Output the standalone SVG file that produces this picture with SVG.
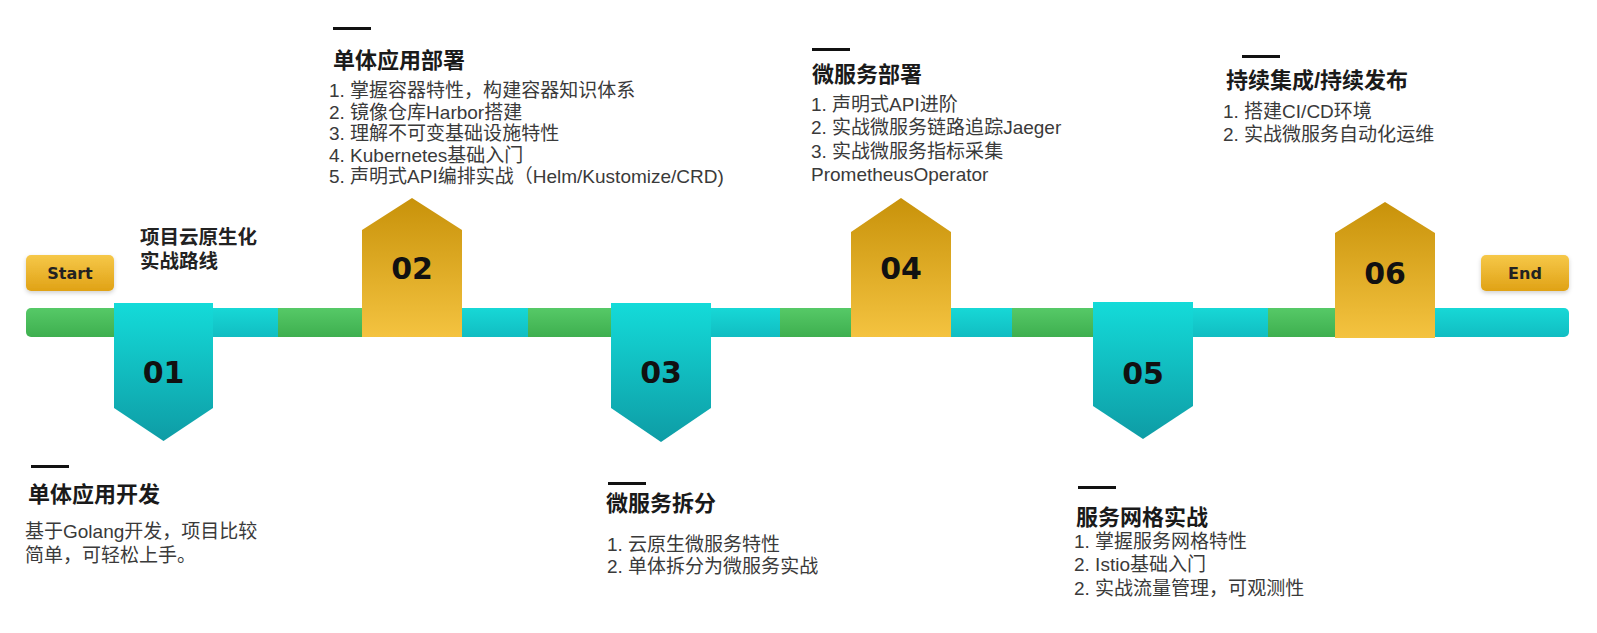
<svg xmlns="http://www.w3.org/2000/svg" width="1597" height="633" viewBox="0 0 1597 633">
<defs>
<linearGradient id="gGold" x1="0" y1="0" x2="0" y2="1"><stop offset="0" stop-color="#C8920A"/><stop offset="1" stop-color="#F4C340"/></linearGradient>
<linearGradient id="gCyan" x1="0" y1="0" x2="0" y2="1"><stop offset="0" stop-color="#14DBD9"/><stop offset="1" stop-color="#0E9CA5"/></linearGradient>
<linearGradient id="gBox" x1="0" y1="0" x2="0" y2="1"><stop offset="0" stop-color="#F6C849"/><stop offset="1" stop-color="#E0A215"/></linearGradient>
<linearGradient id="gGreen" x1="0" y1="0" x2="0" y2="1"><stop offset="0" stop-color="#56C967"/><stop offset="1" stop-color="#3EAF4F"/></linearGradient>
<linearGradient id="gBar" x1="0" y1="0" x2="0" y2="1"><stop offset="0" stop-color="#17D8D6"/><stop offset="1" stop-color="#11BDC2"/></linearGradient>
<filter id="sh" x="-20%" y="-20%" width="140%" height="150%"><feDropShadow dx="0" dy="2" stdDeviation="2" flood-color="#000" flood-opacity="0.18"/></filter>
</defs>
<style>
.num{font-family:"DejaVu Sans",sans-serif;font-weight:bold;font-size:30px;fill:#111;text-anchor:middle}
.lbl{font-family:"DejaVu Sans",sans-serif;font-weight:bold;font-size:16px;fill:#222;text-anchor:middle}
.ttl{font-family:"Liberation Sans","Noto Sans CJK SC",sans-serif;font-weight:bold;font-size:22px;fill:#1a1a1a}
.txt{font-family:"Liberation Sans","Noto Sans CJK SC",sans-serif;font-size:19px;fill:#3a3a3a}
.hd{font-family:"Liberation Sans","Noto Sans CJK SC",sans-serif;font-weight:bold;font-size:19.5px;fill:#222}
.dash{fill:#111}
.gold{fill:url(#gGold)}
.cyan{fill:url(#gCyan)}
.green{fill:url(#gGreen)}
.bar{fill:url(#gBar)}
</style>
<rect width="1597" height="633" fill="#ffffff"/>

<g id="connectors">
<rect class="green" x="26" y="308" width="100" height="29" rx="5"/>
<rect class="bar" x="200" y="308" width="90" height="29"/>
<rect class="green" x="278" y="308" width="90" height="29"/>
<rect class="bar" x="455" y="308" width="73" height="29"/>
<rect class="green" x="528" y="308" width="90" height="29"/>
<rect class="bar" x="705" y="308" width="75" height="29"/>
<rect class="green" x="780" y="308" width="78" height="29"/>
<rect class="bar" x="945" y="308" width="67" height="29"/>
<rect class="green" x="1012" y="308" width="88" height="29"/>
<rect class="bar" x="1185" y="308" width="83" height="29"/>
<rect class="green" x="1268" y="308" width="75" height="29"/>
<rect class="bar" x="1425" y="308" width="144" height="29" rx="5"/>
</g>

<g id="heading">
<text class="hd" x="140" y="244">项目云原生化</text>
<text class="hd" x="140" y="268">实战路线</text>
</g>

<g id="start">
<rect x="26" y="255" width="88" height="36" rx="5" fill="url(#gBox)" filter="url(#sh)"/>
<text class="lbl" x="70" y="279">Start</text>
</g>

<g id="end">
<rect x="1481" y="255" width="88" height="36" rx="5" fill="url(#gBox)" filter="url(#sh)"/>
<text class="lbl" x="1525" y="279" font-weight="normal">End</text>
</g>

<g id="step01">
<polygon class="cyan" points="114,303 213,303 213,408 163.5,441 114,408"/>
<text class="num" x="163.5" y="383">01</text>
</g>
<g id="step02">
<polygon class="gold" points="362,337 362,230 412,198 462,230 462,337"/>
<text class="num" x="412" y="279">02</text>
</g>
<g id="step03">
<polygon class="cyan" points="611,303 711,303 711,408 661,442 611,408"/>
<text class="num" x="661" y="383">03</text>
</g>
<g id="step04">
<polygon class="gold" points="851,337 851,232 901,198 951,232 951,337"/>
<text class="num" x="901" y="279">04</text>
</g>
<g id="step05">
<polygon class="cyan" points="1093,302 1193,302 1193,406 1143,439 1093,406"/>
<text class="num" x="1143" y="384">05</text>
</g>
<g id="step06">
<polygon class="gold" points="1335,338 1335,233 1385,202 1435,233 1435,338"/>
<text class="num" x="1385" y="284">06</text>
</g>

<g id="desc01">
<rect class="dash" x="31" y="465" width="38" height="3"/>
<text class="ttl" x="28" y="502">单体应用开发</text>
<text class="txt" x="25" y="538">基于Golang开发，项目比较</text>
<text class="txt" x="25" y="562">简单，可轻松上手。</text>
</g>

<g id="desc02">
<rect class="dash" x="333" y="27" width="38" height="3"/>
<text class="ttl" x="333" y="68">单体应用部署</text>
<text class="txt" x="329" y="97">1. 掌握容器特性，构建容器知识体系</text>
<text class="txt" x="329" y="118.5">2. 镜像仓库Harbor搭建</text>
<text class="txt" x="329" y="140">3. 理解不可变基础设施特性</text>
<text class="txt" x="329" y="161.5">4. Kubernetes基础入门</text>
<text class="txt" x="329" y="183">5. 声明式API编排实战（Helm/Kustomize/CRD)</text>
</g>

<g id="desc03">
<rect class="dash" x="608" y="482" width="38" height="3"/>
<text class="ttl" x="606" y="511">微服务拆分</text>
<text class="txt" x="607" y="551">1. 云原生微服务特性</text>
<text class="txt" x="607" y="573">2. 单体拆分为微服务实战</text>
</g>

<g id="desc04">
<rect class="dash" x="812" y="48" width="38" height="3"/>
<text class="ttl" x="812" y="82">微服务部署</text>
<text class="txt" x="811" y="111">1. 声明式API进阶</text>
<text class="txt" x="811" y="134">2. 实战微服务链路追踪Jaeger</text>
<text class="txt" x="811" y="158">3. 实战微服务指标采集</text>
<text class="txt" x="811" y="181">PrometheusOperator</text>
</g>

<g id="desc05">
<rect class="dash" x="1078" y="486" width="38" height="3"/>
<text class="ttl" x="1076" y="525">服务网格实战</text>
<text class="txt" x="1074" y="548">1. 掌握服务网格特性</text>
<text class="txt" x="1074" y="571">2. Istio基础入门</text>
<text class="txt" x="1074" y="595">2. 实战流量管理，可观测性</text>
</g>

<g id="desc06">
<rect class="dash" x="1242" y="55" width="38" height="3"/>
<text class="ttl" x="1226" y="88">持续集成/持续发布</text>
<text class="txt" x="1223" y="118">1. 搭建CI/CD环境</text>
<text class="txt" x="1223" y="141">2. 实战微服务自动化运维</text>
</g>
</svg>
